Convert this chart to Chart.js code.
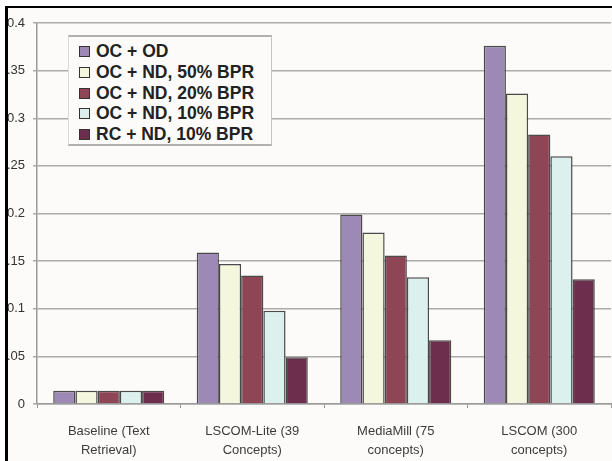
<!DOCTYPE html>
<html>
<head>
<meta charset="utf-8">
<script src="https://cdn.jsdelivr.net/npm/chart.js@4/dist/chart.umd.min.js"></script>
<style>
  html, body { margin:0; padding:0; background:#ffffff; overflow:hidden; width:612px; height:461px; }
  #frame { position:absolute; left:5px; top:6px; width:604px; height:453px; border-left:3px solid #000; border-top:2px solid #000; overflow:hidden; background:#fcfbf9; }
  #holder { position:absolute; left:-8px; top:-8px; width:612px; height:461px; }
  #legend { position:absolute; left:60px; top:27px; width:202px; height:103px; background:#fcfbf9;
            border:1px solid #dadada; border-top:2px solid #b0b0b0; border-bottom:2px solid #b0b0b0; border-right:1px solid #c4c4c4; padding-top:4px;
            font-family:"Liberation Sans", Arial, sans-serif; font-weight:bold; font-size:17.5px; color:#222; }
  .row { height:20.75px; line-height:20.75px; white-space:nowrap; position:relative; padding-left:27px; }
  .sw { position:absolute; left:10px; top:5px; width:9px; height:9px; border:1px solid #333; }
</style>
</head>
<body>
<div id="frame">
  <div id="holder"><canvas id="c" width="612" height="461"></canvas></div>
  <div id="legend"></div>
</div>
<script>
const categories = [
  ["Baseline (Text", "Retrieval)"],
  ["LSCOM-Lite (39", "Concepts)"],
  ["MediaMill (75", "concepts)"],
  ["LSCOM (300", "concepts)"]
];
const seriesNames = ["OC + OD", "OC + ND, 50% BPR", "OC + ND, 20% BPR", "OC + ND, 10% BPR", "RC + ND, 10% BPR"];
const seriesColors = ["#9d89b5", "#f4f6de", "#8e4656", "#dcf0ee", "#6c2e4c"];
const ocOd     = [0.014, 0.159, 0.199, 0.376];
const ocNd50   = [0.014, 0.147, 0.180, 0.326];
const ocNd20   = [0.014, 0.135, 0.156, 0.283];
const ocNd10   = [0.014, 0.098, 0.133, 0.260];
const rcNd10   = [0.014, 0.049, 0.067, 0.131];
const yTickLabels = ["0", "0.05", "0.1", "0.15", "0.2", "0.25", "0.3", "0.35", "0.4"];

const seriesValues = [ocOd, ocNd50, ocNd20, ocNd10, rcNd10];
const datasets = seriesNames.map((name, i) => ({
  label: name,
  data: seriesValues[i],
  backgroundColor: seriesColors[i],
  borderColor: "#4a4a4a",
  borderWidth: 1.5,
  borderSkipped: "bottom"
}));

const font = { family: "'Liberation Sans', Arial, sans-serif", size: 13 };

new Chart(document.getElementById("c"), {
  type: "bar",
  data: { labels: categories, datasets },
  options: {
    responsive: false,
    animation: false,
    layout: { padding: { top: 23, right: 1, left: 0, bottom: 0 } },
    plugins: { legend: { display: false }, tooltip: { enabled: false } },
    datasets: { bar: { categoryPercentage: 0.774, barPercentage: 1 } },
    scales: {
      x: {
        grid: { drawOnChartArea: false, drawTicks: true, tickLength: 4, color: "#999", offset: true },
        border: { color: "#9a9a9a", width: 1.5 },
        ticks: { font: { ...font, lineHeight: 1.46 }, color: "#3c3c3c", padding: 14, maxRotation: 0, autoSkip: false },
        afterFit(s) { s.height = 57; }
      },
      y: {
        min: 0, max: 0.4,
        ticks: {
          stepSize: 0.05, font, color: "#333", padding: 8,
          callback: (v, i) => yTickLabels[i]
        },
        grid: { color: "#acacac", lineWidth: 1.5, tickLength: 4 },
        border: { color: "#9a9a9a", width: 1.5 },
        afterFit(s) { s.width = 37; }
      }
    }
  }
});

const leg = document.getElementById("legend");
seriesNames.forEach((name, i) => {
  const r = document.createElement("div");
  r.className = "row";
  const s = document.createElement("span");
  s.className = "sw";
  s.style.background = seriesColors[i];
  r.appendChild(s);
  r.appendChild(document.createTextNode(name));
  leg.appendChild(r);
});
</script>
</body>
</html>
